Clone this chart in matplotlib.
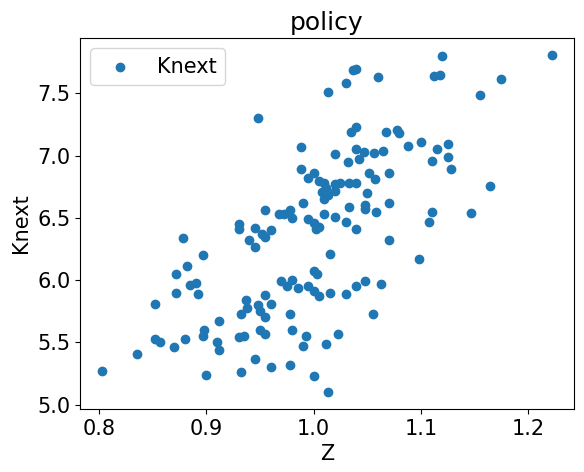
import matplotlib
matplotlib.use("Agg")
import matplotlib.pyplot as plt

pts = [(1.222,7.81),(1.120,7.80),(1.118,7.65),(1.112,7.64),(1.175,7.62),(1.155,7.49),(1.040,7.70),(1.037,7.69),(1.030,7.58),(1.060,7.63),(1.013,7.51),(0.948,7.30),
(1.040,7.23),(1.035,7.19),(1.068,7.19),(1.078,7.21),(1.080,7.18),(1.100,7.11),(1.125,7.09),(1.088,7.08),(1.115,7.05),(0.988,7.07),(1.040,7.05),(1.047,7.03),(1.056,7.02),(1.065,7.04),(1.020,7.01),(1.125,6.99),(1.110,6.96),(1.032,6.95),(1.042,6.97),(1.128,6.89),(1.000,6.86),(0.988,6.89),(1.070,6.86),(1.052,6.86),(1.057,6.81),(0.995,6.82),(1.005,6.80),(1.010,6.78),(1.025,6.78),(1.033,6.78),(1.040,6.78),(1.020,6.77),(1.012,6.74),(1.008,6.71),(1.013,6.68),(1.010,6.65),(1.020,6.72),(1.165,6.76),(1.050,6.70),(1.033,6.59),(1.048,6.60),(1.048,6.57),(1.058,6.55),(1.070,6.62),(0.990,6.62),(0.978,6.56),(0.972,6.53),(0.968,6.53),(0.955,6.56),(0.980,6.50),(0.995,6.49),(1.000,6.46),(1.005,6.43),(1.010,6.53),(1.020,6.51),(1.030,6.47),(1.040,6.41),(1.002,6.41),(1.110,6.55),(1.108,6.47),(1.147,6.54),(0.930,6.45),(0.930,6.41),(0.945,6.42),(0.952,6.37),(0.960,6.40),(0.955,6.35),(0.940,6.32),(0.945,6.27),(0.878,6.34),(0.897,6.20),(1.015,6.21),(1.070,6.32),(1.098,6.17),
(0.882,6.11),(0.872,6.05),(0.890,5.98),(0.885,5.96),(0.872,5.90),(0.892,5.89),(0.970,5.99),(0.975,5.95),(0.980,6.00),(0.985,5.94),(0.995,5.95),(1.000,6.07),(1.003,6.05),(1.000,5.91),(1.005,5.87),(0.955,5.88),(0.960,5.81),(0.937,5.84),(0.938,5.78),(0.948,5.80),(0.950,5.75),(0.932,5.73),(0.955,5.70),(0.978,5.73),(0.980,5.60),(0.993,5.55),(1.015,5.90),(1.030,5.89),(1.040,5.95),(1.048,5.99),(1.063,5.97),(1.055,5.73),(1.023,5.57),(0.852,5.81),(0.912,5.67),(0.898,5.60),(0.897,5.55),(0.880,5.53),(0.852,5.53),(0.857,5.50),(0.870,5.46),(0.910,5.50),(0.912,5.44),(0.930,5.54),(0.935,5.55),(0.950,5.60),(0.955,5.57),(0.945,5.37),(0.990,5.47),(1.012,5.49),(0.960,5.30),(0.978,5.32),(0.835,5.41),(0.803,5.27),(0.900,5.24),(0.932,5.26),(1.000,5.23),(1.013,5.10)]
z = [p[0] for p in pts]
knext = [p[1] for p in pts]

plt.rcParams['font.size'] = 15
fig = plt.figure(figsize=(5.84, 4.72), dpi=100)
ax = fig.add_axes([80/584, 63/472, 494/584, 371/472])
ax.scatter(z, knext, label="Knext")
ax.set_xlabel("Z")
ax.set_ylabel("Knext")
ax.set_title("policy")
ax.legend(loc="upper left")
fig.savefig("out.png")
